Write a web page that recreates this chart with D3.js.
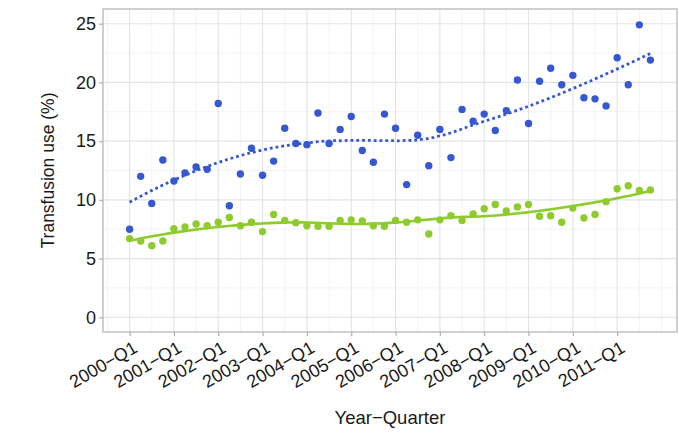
<!DOCTYPE html>
<html>
<head>
<meta charset="utf-8">
<script src="https://cdn.jsdelivr.net/npm/d3@7"></script>
<style>
  html, body { margin: 0; padding: 0; background: #fff; }
  svg { display: block; font-family: "Liberation Sans", Arial, sans-serif; }
</style>
</head>
<body>
<svg id="chart" width="679" height="440"></svg>
<script>
// Quarterly transfusion use, 2000-Q1 .. 2011-Q4.
const years = [2000, 2001, 2002, 2003, 2004, 2005, 2006, 2007, 2008, 2009, 2010, 2011];
const quarters = ['Q1', 'Q2', 'Q3', 'Q4'];
const tickLabels = ['2000\u2212Q1', '2001\u2212Q1', '2002\u2212Q1', '2003\u2212Q1', '2004\u2212Q1', '2005\u2212Q1',
  '2006\u2212Q1', '2007\u2212Q1', '2008\u2212Q1', '2009\u2212Q1', '2010\u2212Q1', '2011\u2212Q1'];
const yTicks = [0, 5, 10, 15, 20, 25];

const blueValues = [7.5, 12.0, 9.7, 13.4, 11.6, 12.3, 12.8, 12.6, 18.2, 9.5, 12.2, 14.4,
  12.1, 13.3, 16.1, 14.8, 14.7, 17.4, 14.8, 16.0, 17.1, 14.2, 13.2, 17.3,
  16.1, 11.3, 15.5, 12.9, 16.0, 13.6, 17.7, 16.7, 17.3, 15.9, 17.6, 20.2,
  16.5, 20.1, 21.2, 19.8, 20.6, 18.7, 18.6, 18.0, 22.1, 19.8, 24.9, 21.9];
const greenValues = [6.7, 6.5, 6.1, 6.5, 7.55, 7.7, 7.95, 7.8, 8.1, 8.5, 7.8, 8.1,
  7.3, 8.75, 8.25, 8.05, 7.8, 7.75, 7.75, 8.25, 8.3, 8.2, 7.8, 7.75,
  8.25, 8.1, 8.3, 7.1, 8.3, 8.65, 8.25, 8.8, 9.25, 9.6, 9.05, 9.4,
  9.6, 8.6, 8.65, 8.1, 9.3, 8.45, 8.75, 9.85, 10.95, 11.2, 10.8, 10.85];

const categories = years.flatMap((y) => quarters.map((q) => `${y}-${q}`));

const blue = '#3558d2';
const green = '#8dcc2c';

// Local quadratic regression (loess, span 0.75, tricube weights) like geom_smooth.
const loessAt = (xs, ys, x0, span = 0.75) => {
  const n = xs.length;
  const q = Math.floor(n * span);
  const d = xs.map((x) => Math.abs(x - x0));
  const h = d.slice().sort((a, b) => a - b)[q - 1];
  // normal equations for y = a + b*t + c*t^2, t = x - x0
  const S = [[0, 0, 0], [0, 0, 0], [0, 0, 0]];
  const R = [0, 0, 0];
  xs.forEach((x, i) => {
    const u = d[i] / h;
    if (u >= 1) return;
    const w = Math.pow(1 - u * u * u, 3);
    const t = x - x0;
    const p = [1, t, t * t];
    for (let r = 0; r < 3; r++) {
      R[r] += w * p[r] * ys[i];
      for (let c = 0; c < 3; c++) S[r][c] += w * p[r] * p[c];
    }
  });
  // Gaussian elimination
  const M = S.map((row, i) => [...row, R[i]]);
  for (let c = 0; c < 3; c++) {
    let piv = c;
    for (let r = c + 1; r < 3; r++) if (Math.abs(M[r][c]) > Math.abs(M[piv][c])) piv = r;
    [M[c], M[piv]] = [M[piv], M[c]];
    for (let r = c + 1; r < 3; r++) {
      const f = M[r][c] / M[c][c];
      for (let k = c; k < 4; k++) M[r][k] -= f * M[c][k];
    }
  }
  const sol = [0, 0, 0];
  for (let r = 2; r >= 0; r--) {
    let s = M[r][3];
    for (let k = r + 1; k < 3; k++) s -= M[r][k] * sol[k];
    sol[r] = s / M[r][r];
  }
  return sol[0];
};

const smooth = (values) => {
  const xs = values.map((_, i) => i);
  const grid = d3.range(80).map((k) => (k * (values.length - 1)) / 79);
  return grid.map((g) => [g, loessAt(xs, values, g)]);
};

const svg = d3.select('#chart');
const panel = { left: 103, right: 677, top: 9, bottom: 332 };

const x = d3.scaleLinear().domain([-2.4, 49.4]).range([panel.left, panel.right]);
const y = d3.scaleLinear().domain([-1.25, 26.25]).range([panel.bottom, panel.top]);

const majorX = d3.range(0, 45, 4);
const minorX = d3.range(-2, 49, 4).concat([48]);
const minorY = [2.5, 7.5, 12.5, 17.5, 22.5];

const grid = svg.append('g');
grid.selectAll('.minor-x')
  .data(minorX)
  .join('line')
  .attr('x1', (d) => x(d)).attr('x2', (d) => x(d))
  .attr('y1', panel.top).attr('y2', panel.bottom)
  .attr('stroke', '#f0f0f0').attr('stroke-width', 0.8);
grid.selectAll('.minor-y')
  .data(minorY)
  .join('line')
  .attr('y1', (d) => y(d)).attr('y2', (d) => y(d))
  .attr('x1', panel.left).attr('x2', panel.right)
  .attr('stroke', '#f0f0f0').attr('stroke-width', 0.8);
grid.selectAll('.major-x')
  .data(majorX)
  .join('line')
  .attr('x1', (d) => x(d)).attr('x2', (d) => x(d))
  .attr('y1', panel.top).attr('y2', panel.bottom)
  .attr('stroke', '#e3e3e3').attr('stroke-width', 1.1);
grid.selectAll('.major-y')
  .data(yTicks)
  .join('line')
  .attr('y1', (d) => y(d)).attr('y2', (d) => y(d))
  .attr('x1', panel.left).attr('x2', panel.right)
  .attr('stroke', '#e3e3e3').attr('stroke-width', 1.1);

const line = d3.line().x((d) => x(d[0])).y((d) => y(d[1])).curve(d3.curveLinear);

// smooth curves
svg.append('path')
  .attr('d', line(smooth(greenValues)))
  .attr('fill', 'none')
  .attr('stroke', green)
  .attr('stroke-width', 2.6);

svg.append('path')
  .attr('d', line(smooth(blueValues)))
  .attr('fill', 'none')
  .attr('stroke', blue)
  .attr('stroke-width', 2.8)
  .attr('stroke-dasharray', '2.8 3');

// points
svg.append('g')
  .selectAll('circle')
  .data(greenValues)
  .join('circle')
  .attr('cx', (_d, i) => x(i))
  .attr('cy', (d) => y(d))
  .attr('r', 3.7)
  .attr('fill', green);

svg.append('g')
  .selectAll('circle')
  .data(blueValues)
  .join('circle')
  .attr('cx', (_d, i) => x(i))
  .attr('cy', (d) => y(d))
  .attr('r', 3.7)
  .attr('fill', blue);

// panel border
svg.append('rect')
  .attr('x', panel.left).attr('y', panel.top)
  .attr('width', panel.right - panel.left)
  .attr('height', panel.bottom - panel.top)
  .attr('fill', 'none')
  .attr('stroke', '#c4c4c4')
  .attr('stroke-width', 1.6);

// y axis
const yAxis = svg.append('g')
  .attr('transform', `translate(${panel.left},0)`)
  .call(d3.axisLeft(y).tickValues(yTicks).tickSize(4).tickPadding(3));
yAxis.select('.domain').remove();
yAxis.selectAll('.tick line').attr('stroke', '#b0b0b0').attr('stroke-width', 1.2);
yAxis.selectAll('.tick text')
  .attr('font-size', 18)
  .attr('fill', '#1a1a1a')
  .attr('font-family', '"Liberation Sans", Arial, sans-serif');

// x axis
const xAxis = svg.append('g')
  .attr('transform', `translate(0,${panel.bottom})`)
  .call(d3.axisBottom(x).tickValues(majorX).tickSize(4).tickFormat((_d, i) => tickLabels[i]));
xAxis.select('.domain').remove();
xAxis.selectAll('.tick line').attr('stroke', '#b0b0b0').attr('stroke-width', 1.2);
xAxis.selectAll('.tick text')
  .attr('font-size', 18)
  .attr('fill', '#1a1a1a')
  .attr('font-family', '"Liberation Sans", Arial, sans-serif')
  .attr('text-anchor', 'end')
  .attr('x', 0).attr('y', 0)
  .attr('dy', '0.72em')
  .attr('transform', 'translate(2,8) rotate(-30)');

// axis titles
svg.append('text')
  .attr('x', (panel.left + panel.right) / 2)
  .attr('y', 424)
  .attr('text-anchor', 'middle')
  .attr('font-size', 18.5)
  .attr('fill', '#1a1a1a')
  .text('Year\u2212Quarter');

svg.append('text')
  .attr('transform', `translate(54,${(panel.top + panel.bottom) / 2}) rotate(-90)`)
  .attr('text-anchor', 'middle')
  .attr('font-size', 17.5)
  .attr('fill', '#1a1a1a')
  .text('Transfusion use (%)');
</script>
</body>
</html>
